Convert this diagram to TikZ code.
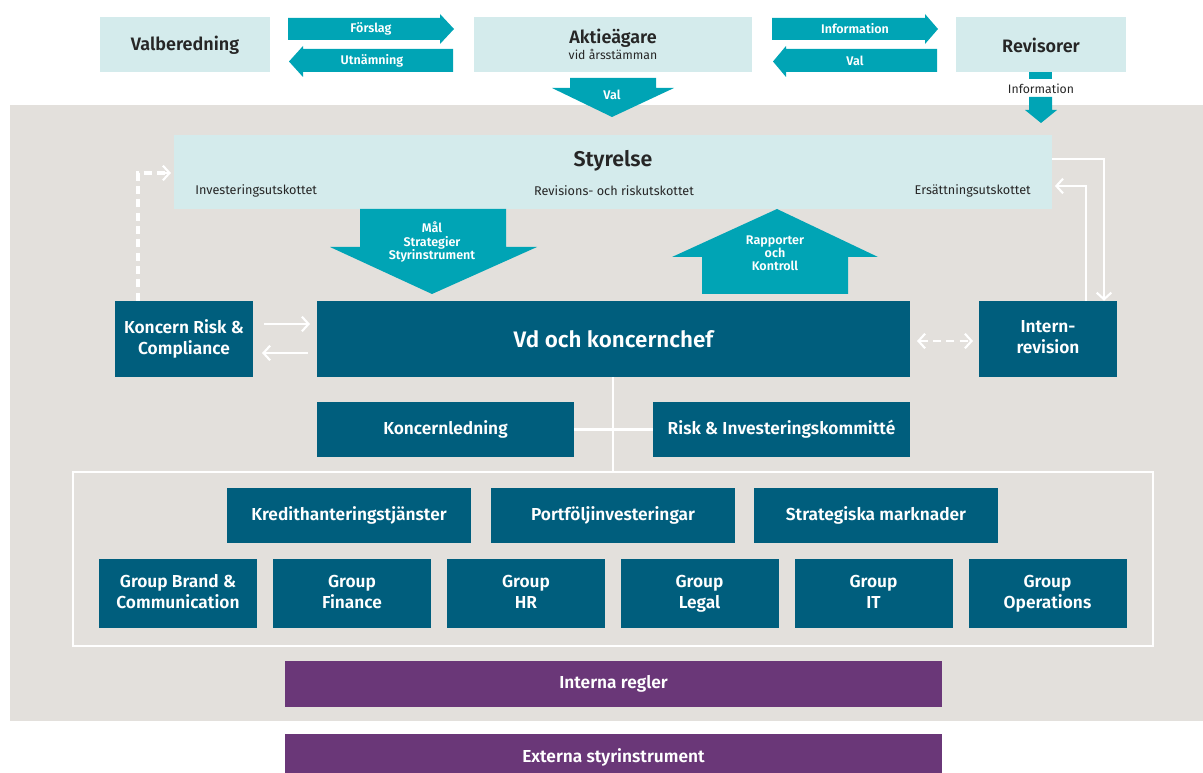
\documentclass[tikz,border=0pt]{standalone}
\usepackage{fontspec}
\setmainfont{Fira Sans}[BoldFont={Fira Sans SemiBold}]
\usetikzlibrary{arrows.meta}
\definecolor{lightbox}{HTML}{D4EBEC}
\definecolor{arrteal}{HTML}{00A4B5}
\definecolor{darkbox}{HTML}{005E7D}
\definecolor{purp}{HTML}{6A3778}
\definecolor{bggray}{HTML}{E3E0DC}
\begin{document}
\begin{tikzpicture}[x=0.75pt,y=-0.75pt,
  lbox/.style={fill=lightbox,draw=none,inner sep=0pt,font=\fontsize{13.5}{15}\selectfont\bfseries,text=black!85},
  dbox/.style={fill=darkbox,draw=none,inner sep=0pt,font=\fontsize{13}{15.5}\selectfont\bfseries,text=white,align=center},
  pbox/.style={fill=purp,draw=none,inner sep=0pt,font=\fontsize{13}{15}\selectfont\bfseries,text=white},
  fat/.style={fill=arrteal,draw=none},
  atxt/.style={text=white,font=\fontsize{9.4}{10.8}\selectfont\bfseries,inner sep=0pt,align=center},
  small/.style={font=\fontsize{9.5}{11}\selectfont,text=black!85,inner sep=0pt},
  wline/.style={draw=white,line width=2pt},
  tip/.style={-{Straight Barb[length=5pt,width=11pt,line width=1.6pt]}},
  dtip/.style={{Straight Barb[length=5pt,width=11pt,line width=1.6pt]}-{Straight Barb[length=5pt,width=11pt,line width=1.6pt]}},
  wdash/.style={dash pattern=on 6pt off 4pt}
]
\useasboundingbox (0,0) rectangle (1203,773);
% background
\fill[bggray] (10,105) rectangle (1203,721);
% top row boxes
\node[lbox,minimum width=170*0.75pt,minimum height=55*0.75pt] (valb) at (185,45) {Valberedning};
\node[lbox,minimum width=278*0.75pt,minimum height=55*0.75pt,align=center] (akt) at (613,44.5) {Aktieägare\\[-3pt]{\fontsize{9.2}{10}\selectfont\mdseries vid årsstämman}};
\node[lbox,minimum width=170*0.75pt,minimum height=55*0.75pt] (rev) at (1041,45) {Revisorer};
% fat arrows top
\fill[fat] (288,18) -- (440,18) -- (440,14) -- (454,29) -- (440,44) -- (440,40) -- (288,40) -- cycle;
\node[atxt] (forslag) at (371,29) {Förslag};
\fill[fat] (453,49) -- (303,49) -- (303,46) -- (289,61.5) -- (303,77) -- (303,72) -- (453,72) -- cycle;
\node[atxt] (utn) at (372,61) {Utnämning};
\fill[fat] (772,18) -- (925,18) -- (925,14) -- (938,29) -- (925,44) -- (925,40) -- (772,40) -- cycle;
\node[atxt] (info1) at (855,29) {Information};
\fill[fat] (937,49) -- (786,49) -- (786,46) -- (773,61.5) -- (786,77) -- (786,72) -- (937,72) -- cycle;
\node[atxt] (val1) at (855,61) {Val};
% Val down
\fill[fat] (570,78) -- (656,78) -- (656,88) -- (674,88) -- (612,117) -- (552,88) -- (570,88) -- cycle;
\node[atxt] (val2) at (612,95) {Val};
% Information down
\fill[fat] (1029,72) rectangle (1052,79);
\node[small,font=\fontsize{9.2}{10}\selectfont] (info2) at (1041,88.5) {Information};
\fill[fat] (1029,97) -- (1052,97) -- (1052,110) -- (1057,110) -- (1041,123) -- (1025,110) -- (1029,110) -- cycle;
% Styrelse
\node[lbox,minimum width=878*0.75pt,minimum height=74*0.75pt] (sty) at (613,172) {};
\node[font=\fontsize{16}{18}\selectfont\bfseries,text=black!85,inner sep=0pt] (stytxt) at (613,161) {Styrelse};
\node[small,anchor=west] (inv) at (195,190.5) {Investeringsutskottet};
\node[small] (revu) at (614,190.5) {Revisions- och riskutskottet};
\node[small,anchor=east] (ers) at (1031,190.5) {Ersättningsutskottet};
% Mål arrow
\fill[fat] (360,209) -- (506,209) -- (506,247) -- (537,247) -- (432,294) -- (330,247) -- (360,247) -- cycle;
\node[atxt] (mal) at (432,242) {Mål\\[-1pt]Strategier\\[-1pt]Styrinstrument};
% Rapporter arrow
\fill[fat] (777,209) -- (878,257) -- (848,257) -- (848,294) -- (702,294) -- (702,257) -- (672,257) -- cycle;
\node[atxt] (rap) at (775,254.5) {Rapporter\\[-1pt]och\\[-1pt]Kontroll\vphantom{g}};
% middle boxes
\node[dbox,minimum width=138*0.75pt,minimum height=76*0.75pt] (kr) at (184,339) {Koncern Risk \&\\Compliance};
\node[dbox,minimum width=593*0.75pt,minimum height=76*0.75pt,font=\fontsize{16.8}{19}\selectfont\bfseries] (vd) at (613.5,339) {Vd och koncernchef};
\node[dbox,minimum width=138*0.75pt,minimum height=76*0.75pt] (ir) at (1048,339) {Intern-\\revision\vphantom{g}};
\node[dbox,minimum width=257*0.75pt,minimum height=55*0.75pt] (kl) at (445.5,429.5) {Koncernledning};
\node[dbox,minimum width=257*0.75pt,minimum height=55*0.75pt] (rik) at (781.5,429.5) {Risk \& Investeringskommitté};
% frame
\draw[white,line width=2pt] (73,472) rectangle (1153,646);
\coordinate (ftop) at (613,472);
\node[dbox,minimum width=244*0.75pt,minimum height=55*0.75pt] (kred) at (349,515.5) {Kredithanteringstjänster};
\node[dbox,minimum width=244*0.75pt,minimum height=55*0.75pt] (port) at (613,515.5) {Portföljinvesteringar};
\node[dbox,minimum width=244*0.75pt,minimum height=55*0.75pt] (strat) at (876,515.5) {Strategiska marknader};
\foreach \cx/\nm/\txt in {178/g1/{Group Brand \&\\Communication},352/g2/{Group\\Finance},526/g3/{Group\\HR},699.5/g4/{Group\\Legal},873.5/g5/{Group\\IT},1047.5/g6/{Group\\Operations}}{
  \node[dbox,minimum width=158*0.75pt,minimum height=69*0.75pt] (\nm) at (\cx,593.5) {\txt\vphantom{g}};
}
% purple
\node[pbox,minimum width=657*0.75pt,minimum height=46*0.75pt] (int) at (613.5,684) {Interna regler};
\fill[purp] (285,734) rectangle (942,773);
\node[pbox] (ext) at (613.5,757) {Externa styrinstrument};
% connectors
\draw[wline] (vd.south -| ftop) -- (ftop);
\draw[wline] (kl.east) -- (rik.west);
\coordinate (d1) at (138,173);
\draw[wline,wdash,line width=2.5pt] (kr.north -| d1) -- (d1) -- (170,173);
\draw[white,line width=1.6pt,tip] (160,173) -- (171,173);
\coordinate (ka) at (264,324);
\coordinate (kb) at (310,324);
\coordinate (kc) at (308,353);
\coordinate (kd) at (262,353);
\draw[wline,tip] (ka) -- (kb);
\draw[wline,tip] (kc) -- (kd);
\coordinate (ia) at (917,341);
\coordinate (ib) at (973,341);
\draw[wline,wdash,dtip] (ia) -- (ib);
\coordinate (r1) at (1104,159);
\coordinate (r2) at (1086,186);
\draw[wline,tip] (sty.east |- r1) -- (r1) -- (r1 |- ir.north);
\draw[wline,tip] (r2 |- ir.north) -- (r2) -- ([xshift=2]sty.east |- r2);
\end{tikzpicture}
\end{document}
